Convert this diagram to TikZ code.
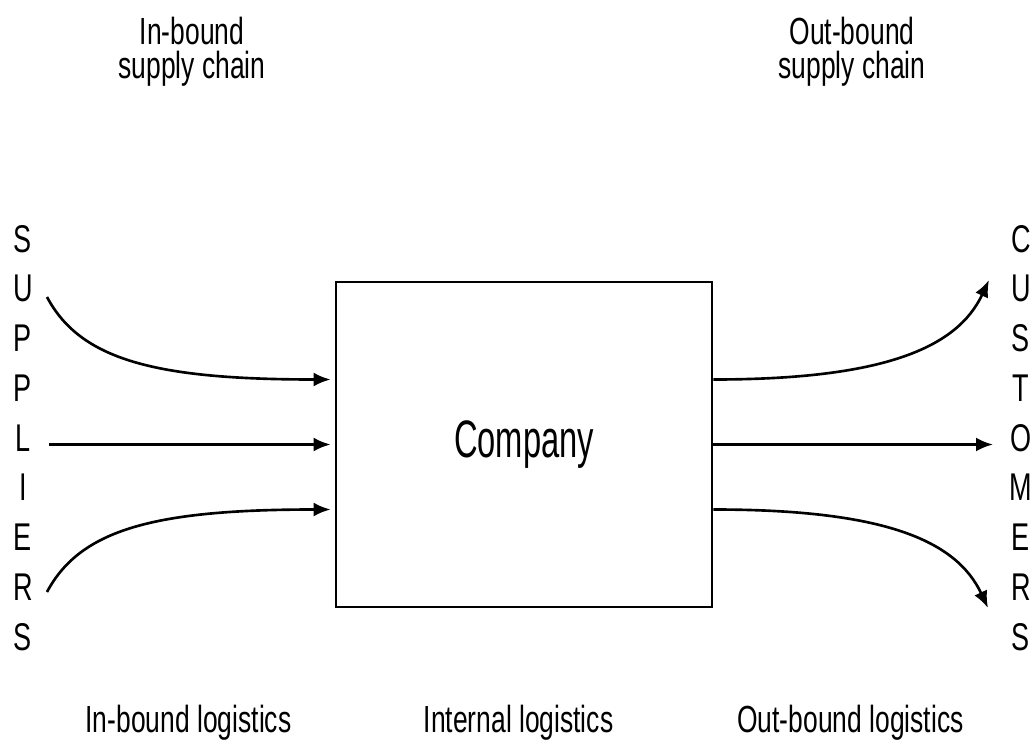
\documentclass[tikz,border=0pt]{standalone}
\usepackage{fontspec}
\setmainfont{Liberation Sans}[FakeStretch=0.7]
\newfontfamily\boxfont{Liberation Sans}[FakeStretch=0.62]
\usetikzlibrary{arrows.meta}

\tikzset{
  flow/.style={line width=1.5pt, -{Latex[length=0.34cm, width=0.28cm]}},
  sidetext/.style={font=\fontsize{21.5}{19.4}\selectfont, align=center, inner sep=0pt},
  lettertext/.style={font=\fontsize{22}{22}\selectfont, anchor=base, inner sep=0pt},
}

\begin{document}
\begin{tikzpicture}
    \useasboundingbox (0,0) rectangle (20.7,14.94);

    % the company itself
    \node[draw, line width=1.6pt, minimum width=7.52cm, minimum height=6.5cm,
          font=\boxfont\fontsize{30}{30}\selectfont] (company) at (10.48,6.05) {Company};

    % headings over both supply chains
    \node[sidetext, anchor=north] (inchain) at (3.84,14.6) {In-bound\\supply chain};
    \node[sidetext, anchor=north] (outchain) at (17.04,14.6) {Out-bound\\supply chain};

    % logistics names along the bottom
    \node[sidetext, anchor=base] (inlog) at (3.77,0.30) {In-bound logistics};
    \node[sidetext, anchor=base] (intlog) at (10.37,0.30) {Internal logistics};
    \node[sidetext, anchor=base] (outlog) at (17.01,0.30) {Out-bound logistics};

    % suppliers and customers, written downwards
    \foreach \ch [count=\i from 0] in {S,U,P,P,L,I,E,R,S}
      \node[lettertext] (sup\i) at (0.46,{9.90-0.995*\i}) {\ch};
    \foreach \ch [count=\i from 0] in {C,U,S,T,O,M,E,R,S}
      \node[lettertext] (cus\i) at (20.42,{9.90-0.995*\i}) {\ch};

    % in-bound flows
    \coordinate (inA) at (0.94,9.0);
    \coordinate (inB) at (0.98,6.05);
    \coordinate (inC) at (0.94,3.1);
    \draw[flow, shorten >=0.08cm] (inA)
      to[out=-62, in=180, out distance=1.42cm, in distance=3.6cm] ([yshift=1.3cm]company.west);
    \draw[flow, shorten >=0.08cm] (inB) -- (company.west);
    \draw[flow, shorten >=0.08cm] (inC)
      to[out=62, in=180, out distance=1.42cm, in distance=3.6cm] ([yshift=-1.3cm]company.west);

    % out-bound flows
    \coordinate (outA) at (19.78,9.34);
    \coordinate (outB) at (19.86,6.05);
    \coordinate (outC) at (19.76,2.78);
    \draw[flow] ([yshift=1.3cm]company.east)
      to[out=0, in=-115, out distance=3.4cm, in distance=1.5cm] (outA);
    \draw[flow] (company.east) -- (outB);
    \draw[flow] ([yshift=-1.3cm]company.east)
      to[out=0, in=115, out distance=3.4cm, in distance=1.5cm] (outC);
\end{tikzpicture}
\end{document}
